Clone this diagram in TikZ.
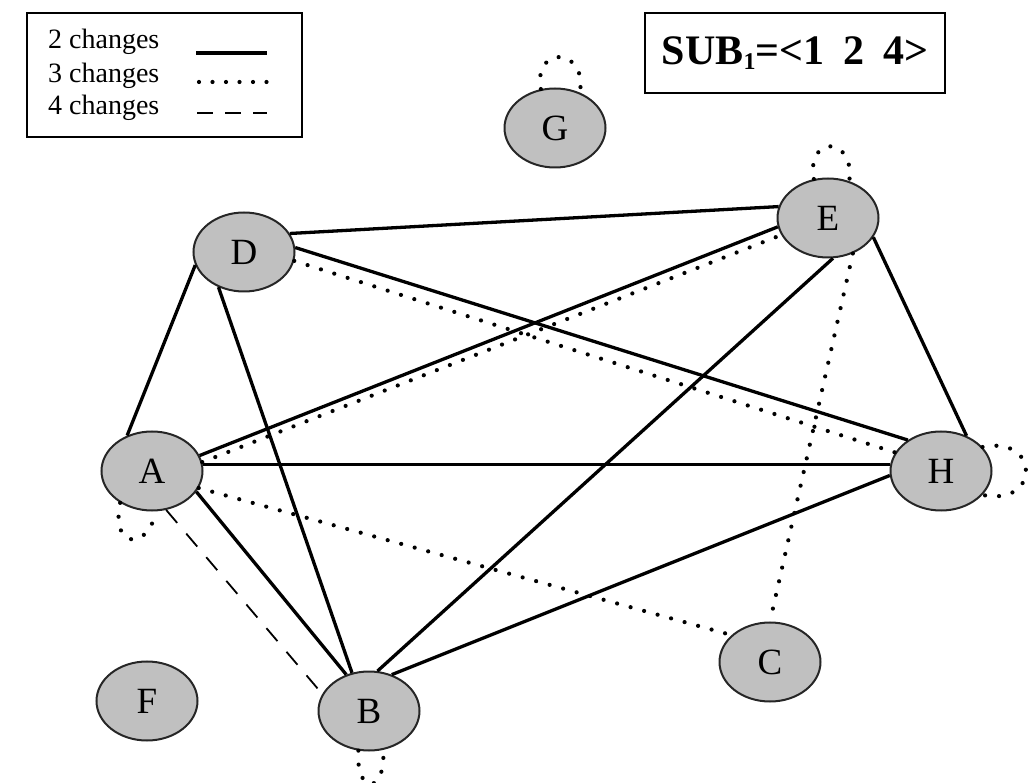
\documentclass[tikz,border=0pt]{standalone}
\usepackage{fontspec}
\setmainfont{Liberation Serif}
\usetikzlibrary{shapes.geometric}
\definecolor{nodegray}{RGB}{192,192,192}
\begin{document}
\begin{tikzpicture}[x=1pt,y=-1pt,
  vtx/.style={ellipse, draw=black!85, line width=2pt, fill=nodegray,
    minimum width=101pt, minimum height=79pt, inner sep=0pt,
    font=\fontsize{37}{42}\selectfont},
  two/.style={line width=3.3pt},
  three/.style={line width=4.2pt, line cap=round, dash pattern=on 0pt off 14pt},
  four/.style={line width=1.8pt, dash pattern=on 17pt off 14pt},
  framebox/.style={draw, line width=2pt, inner sep=0pt},
  legtext/.style={anchor=base west, inner sep=0pt, font=\fontsize{28}{32}\selectfont}]
\useasboundingbox (0,0) rectangle (1029,783);

% legend
\node[framebox, minimum width=275pt, minimum height=124pt] (legend) at (164.5,75) {};
\node[legtext] (t2) at (48,49) {2 changes};
\node[legtext] (t3) at (48,83) {3 changes};
\node[legtext] (t4) at (48,115) {4 changes};
\coordinate (l2a) at (196,53);  \coordinate (l2b) at (267,53);
\coordinate (l3a) at (199,82);  \coordinate (l3b) at (267,82);
\coordinate (l4a) at (197,113); \coordinate (l4b) at (267,113);
\draw[two] (l2a) -- (l2b);
\draw[three, dash pattern=on 0pt off 13.5pt] (l3a) -- (l3b);
\draw[line width=1.8pt, dash pattern=on 16pt off 12pt] (l4a) -- (l4b);

% title box
\node[framebox, minimum width=300pt, minimum height=80pt,
  font=\fontsize{42}{48}\selectfont\bfseries] (sub) at (795,53)
  {SUB\raisebox{-0.22ex}{\fontsize{24}{24}\selectfont 1}=<1\hspace{0.45em}2\hspace{0.45em}4>};

% vertices
\node[vtx] (G) at (555,128) {G};
\node[vtx] (E) at (828,218) {E};
\node[vtx] (D) at (244,252) {D};
\node[vtx] (A) at (152,471) {A};
\node[vtx] (H) at (941,471) {H};
\node[vtx] (C) at (770,662) {C};
\node[vtx] (F) at (147,701) {F};
\node[vtx] (B) at (369,711) {B};

% 2 changes
\draw[two] (D.22) -- (E.167);
\draw[two] (D.195) -- (A.125);
\draw[two] (D.234) -- (B.114);
\draw[two] (D.5) -- (H.137);
\draw[two] (A.18) -- (E.190);
\draw[two] (A.7) -- (H.173);
\draw[two] (A.335) -- (B.122);
\draw[two] (E.277) -- (B.78);
\draw[two] (E.337) -- (H.54);
\draw[two] (H.185) -- (B.58);

% 3 changes
\draw[three] (D.350) -- (H.158);
\draw[three] (A.10) -- (E.200);
\draw[three] (A.340) -- (C.145);
\draw[three] (E.305) -- (C.90);
\draw[three] (G.110) .. controls +(-8,-45) and +(8,-45) .. (G.55);
\draw[three] (E.110) .. controls +(-8,-45) and +(6,-45) .. (E.60);
\draw[three] (H.30) .. controls +(58,-12) and +(58,12) .. (H.-30);
\draw[three] (A.225) .. controls +(-10,48) and +(-6,38) .. (A.275);
\draw[three] (B.255) .. controls +(-3,45) and +(3,45) .. (B.290);

% 4 changes
\draw[four] (A.290) -- (B.160);
\end{tikzpicture}
\end{document}
